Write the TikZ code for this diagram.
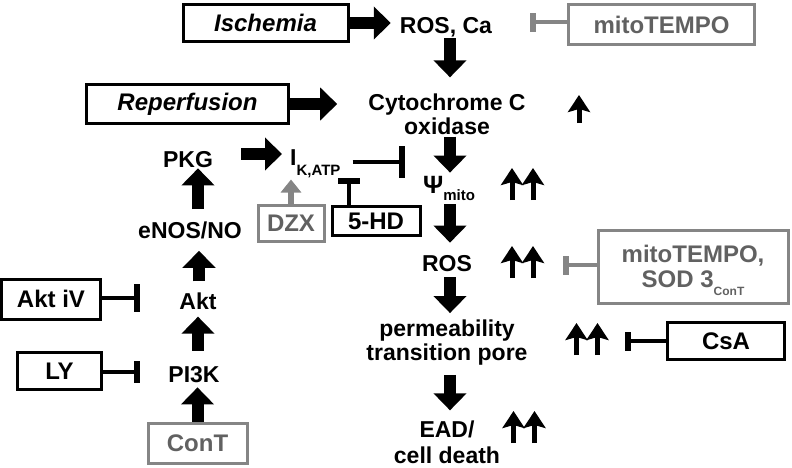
\documentclass[tikz,border=0pt]{standalone}
\usepackage{fontspec}
\setmainfont{Liberation Sans}
\usetikzlibrary{arrows.meta,positioning,calc}
\colorlet{gline}{black!48}
\colorlet{gtext}{black!62}
\newcommand\lowsub[3]{\raisebox{-#2}{\fontsize{#1}{#1}\selectfont #3}}

\begin{document}
\begin{tikzpicture}[x=1pt,y=-1pt,
  every node/.style={font=\fontsize{23}{24}\selectfont\bfseries,align=center,inner sep=0pt},
  box/.style={draw,line width=3pt,font=\fontsize{24}{25}\selectfont\bfseries},
  gbox/.style={box,draw=gline,text=gtext},
  blk/.style={line width=12pt,-{Triangle[width=32pt,length=17pt]}},
  inh/.style={line width=4pt,-{Bar[width=#1,line width=6pt]}},
  inh/.default=24pt,
  ginh/.style={inh=#1,draw=gline},
  ginh/.default=19pt,
  up/.style={line width=5pt,-{Stealth[width=22pt,length=17pt,inset=3pt]}},
  pics/upone/.style={code={\draw[up] (0,14) -- (0,-14);}},
  pics/uptwo/.style={code={
    \draw[up] (-10.5,16) -- (-10.5,-16);
    \draw[up] (10.5,16) -- (10.5,-16);}}]
\useasboundingbox (0,0) rectangle (792,467);

% main column
\node (rosca) at (446,27) {ROS, Ca};
\node (cyt) at (447,114) {Cytochrome C\\oxidase};
\node[anchor=base] (psi) at (449,193) {\fontsize{25}{25}\selectfont Ψ\lowsub{15pt}{7pt}{mito}};
\node (ros) at (447,264) {ROS};
\node (mpt) at (447,343) {permeability\\transition pore};
\node (ead) at (447,442) {EAD/\\[2pt]cell death};

% left column
\node (pkg) at (188,160) {PKG};
\node (enos) at (190,230) {eNOS/NO};
\node (akt) at (198,301) {Akt};
\node (pi3k) at (194,375) {PI3K};
\node[anchor=base west] (ik) at (290,165) {I\lowsub{15pt}{10pt}{K,ATP}};

% boxes
\node[box,minimum width=165pt,minimum height=37pt] (isch) at (265.5,23) {\itshape Ischemia};
\node[box,minimum width=202pt,minimum height=39pt] (rep) at (187.5,104) {\itshape Reperfusion};
\node[gbox,minimum width=186pt,minimum height=40pt] (mt1) at (661.5,24.5) {mitoTEMPO};
\node[gbox,minimum width=66pt,minimum height=36pt] (dzx) at (291,223) {DZX};
\node[box,minimum width=88pt,minimum height=29pt] (hd) at (376,221) {5-HD};
\node[gbox,minimum width=190pt,minimum height=73pt,text depth=0pt] (mt2) at (693,266.5)
  {mitoTEMPO,\\[0pt]SOD 3\lowsub{12pt}{8pt}{ConT}};
\node[box,minimum width=117pt,minimum height=37pt] (csa) at (726,341) {CsA};
\node[box,minimum width=99pt,minimum height=40pt] (aktiv) at (51,299) {Akt iV};
\node[box,minimum width=84pt,minimum height=37pt] (ly) at (59.5,371) {LY};
\node[gbox,minimum width=99pt,minimum height=40pt] (cont) at (197.5,443) {ConT};

% block arrows
\draw[blk,shorten >=9pt] (isch.east) -- (isch.east -| rosca.west);
\draw[blk,shorten >=31pt] (rep.east) -- (rep.east -| cyt.west);
\draw[blk,shorten <=28pt,shorten >=8pt] ([yshift=6pt]pkg.east) -- ([yshift=6pt]pkg.east -| ik.west);
\draw[blk,shorten <=1pt,shorten >=16pt] ([xshift=4pt]rosca.south) -- ([xshift=4pt]rosca.south |- cyt.north);
\draw[blk,shorten <=2pt,shorten >=3pt] ([xshift=3pt]cyt.south) -- ([xshift=3pt]cyt.south |- psi.north);
\draw[blk,shorten <=4pt,shorten >=13pt] ([xshift=1pt]psi.south) -- ([xshift=1pt]psi.south |- ros.north);
\draw[blk,shorten <=5pt,shorten >=7pt] ([xshift=3pt]ros.south) -- ([xshift=3pt]mpt.north);
\draw[blk,shorten <=9pt,shorten >=10pt] ([xshift=3pt]mpt.south) -- ([xshift=3pt]ead.north);
\draw[blk,shorten >=4pt] (cont.north) -- (cont.north |- pi3k.south);
\draw[blk,shorten <=16pt,shorten >=7pt] ([xshift=4pt]pi3k.north) -- ([xshift=4pt]pi3k.north |- akt.south);
\draw[blk,shorten <=11pt,shorten >=12pt] ([xshift=1pt]akt.north) -- ([xshift=1pt]akt.north |- enos.south);
\draw[blk,shorten <=12pt] ([xshift=8pt]enos.north) -- ([xshift=8pt]enos.north |- pkg.south);
\draw[gline,line width=6pt,-{Triangle[width=20pt,length=13pt]},shorten >=2pt] (dzx.north) -- (dzx.north |- ik.south);

% inhibitions
\coordinate (ikbar) at (405,162);
\coordinate (hdbar) at (349,178);
\coordinate (mt1bar) at (530,22);
\coordinate (mt2bar) at (563,265);
\coordinate (csabar) at (625,341);
\coordinate (aktbar) at (140,298);
\coordinate (lybar) at (140,372);
\draw[inh=32pt,shorten <=12pt] (ik.east |- ikbar) -- (ikbar);
\draw[inh=22pt] (hdbar |- hd.north) -- (hdbar);
\draw[ginh] (mt1.west |- mt1bar) -- (mt1bar);
\draw[ginh] (mt2.west |- mt2bar) -- (mt2bar);
\draw[inh=19pt] (csa.west |- csabar) -- (csabar);
\draw[inh=28pt] (aktiv.east |- aktbar) -- (aktbar);
\draw[inh=22pt] (ly.east |- lybar) -- (lybar);

% increases
\pic at (579,109) {upone};
\pic at (522.5,184) {uptwo};
\pic at (522.5,262) {uptwo};
\pic at (587,339) {uptwo};
\pic at (524,427) {uptwo};
\end{tikzpicture}
\end{document}
